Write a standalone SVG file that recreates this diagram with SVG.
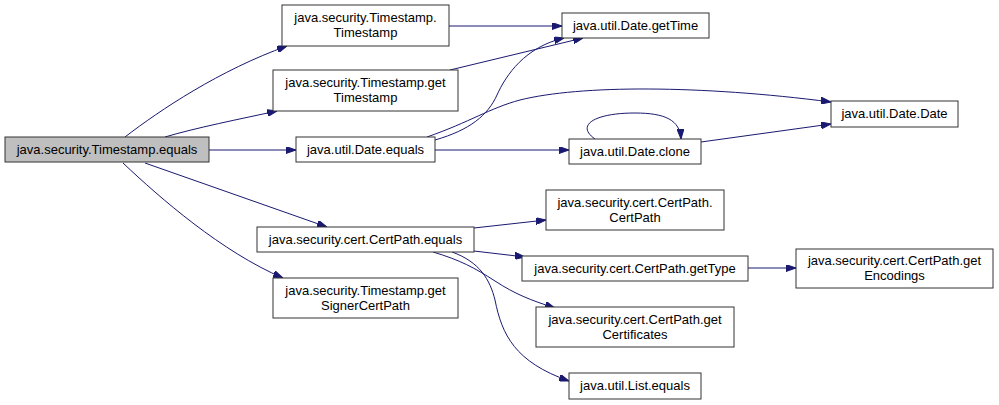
<svg xmlns="http://www.w3.org/2000/svg" width="999" height="405" viewBox="0 0 999 405">
<style>
.n rect{fill:#ffffff;stroke:#333333;stroke-width:1}
.root rect{fill:#bfbfbf}
.n text{font-family:"Liberation Sans",Arial,sans-serif;font-size:13px;fill:#000000;text-anchor:middle}
.e path{fill:none;stroke:#191970;stroke-width:1;marker-end:url(#ah)}
</style>
<defs>
<marker id="ah" markerUnits="userSpaceOnUse" markerWidth="10" markerHeight="7" refX="10" refY="3.5" orient="auto">
<path d="M0,0 L10,3.5 L0,7 z" fill="#191970" stroke="#191970" stroke-width="1"/>
</marker>
</defs>
<rect x="0" y="0" width="999" height="405" fill="#ffffff"/>
<g id="connectors" class="e">
<path d="M125,137 C160,110 220,70 287,46"/>
<path d="M165,137 C195,128 240,119 277,111"/>
<path d="M209,150 L296,150"/>
<path d="M145,163 L327,227"/>
<path d="M123,163 C160,198 222,252 283,278"/>
<path d="M449,26 L562,26"/>
<path d="M450,70 L583,38"/>
<path d="M435,140 C470,130 488,115 497,95 C506,75 525,47 564,38"/>
<path d="M427,137 C470,122 490,108 520,100 C580,85 700,85 831,102"/>
<path d="M435,150 L569,150"/>
<path d="M701,142 L831,124"/>
<path d="M595,139 C575,125 595,113 635,113 C665,113 680,120 681,139"/>
<path d="M474,228 L546,220"/>
<path d="M474,251 L525,257"/>
<path d="M433,252 C460,260 475,268 495,281 C515,294 530,300 555,308"/>
<path d="M452,252 C480,262 490,280 495,300 C502,335 515,362 569,381"/>
<path d="M748,268 L796,268"/>
</g>
<g id="n1" class="n root"><rect x="5" y="137" width="204" height="25"/><text x="107" y="154">java.security.Timestamp.equals</text></g>
<g id="n2" class="n"><rect x="282" y="5" width="167" height="41"/><text x="365.5" y="22">java.security.Timestamp.</text><text x="365.5" y="37">Timestamp</text></g>
<g id="n3" class="n"><rect x="273" y="70" width="185" height="41"/><text x="365.5" y="87">java.security.Timestamp.get</text><text x="365.5" y="102">Timestamp</text></g>
<g id="n4" class="n"><rect x="296" y="137" width="139" height="25"/><text x="365.5" y="154">java.util.Date.equals</text></g>
<g id="n5" class="n"><rect x="562" y="13" width="147" height="25"/><text x="635.5" y="30">java.util.Date.getTime</text></g>
<g id="n6" class="n"><rect x="831" y="101" width="127" height="26"/><text x="894.5" y="118">java.util.Date.Date</text></g>
<g id="n7" class="n"><rect x="569" y="139" width="132" height="25"/><text x="635" y="156">java.util.Date.clone</text></g>
<g id="n8" class="n"><rect x="546" y="190" width="178" height="40"/><text x="635" y="207">java.security.cert.CertPath.</text><text x="635" y="222">CertPath</text></g>
<g id="n9" class="n"><rect x="257" y="227" width="217" height="25"/><text x="365.5" y="244">java.security.cert.CertPath.equals</text></g>
<g id="n10" class="n"><rect x="273" y="278" width="185" height="40"/><text x="365.5" y="295">java.security.Timestamp.get</text><text x="365.5" y="310">SignerCertPath</text></g>
<g id="n11" class="n"><rect x="522" y="256" width="226" height="25"/><text x="635" y="273">java.security.cert.CertPath.getType</text></g>
<g id="n12" class="n"><rect x="796" y="249" width="197" height="39"/><text x="894.5" y="265">java.security.cert.CertPath.get</text><text x="894.5" y="280">Encodings</text></g>
<g id="n13" class="n"><rect x="536" y="307" width="198" height="40"/><text x="635" y="324">java.security.cert.CertPath.get</text><text x="635" y="339">Certificates</text></g>
<g id="n14" class="n"><rect x="569" y="373" width="132" height="26"/><text x="635" y="390">java.util.List.equals</text></g>
</svg>
